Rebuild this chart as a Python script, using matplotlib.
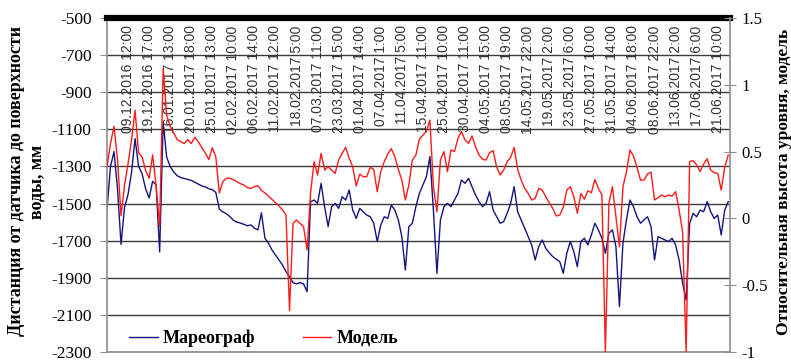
import numpy as np
import matplotlib
matplotlib.use("Agg")
import matplotlib.pyplot as plt
import matplotlib.transforms as mtransforms

plt.rcParams["axes.unicode_minus"] = False

# tide gauge, distance from sensor to water surface, mm
mareograph = [
    -1530, -1300, -1220, -1420, -1720, -1520, -1450, -1330, -1150, -1300,
    -1340, -1420, -1470, -1380, -1400, -1760, -1060, -1250, -1300, -1330,
    -1350, -1360, -1365, -1370, -1375, -1385, -1395, -1405, -1410, -1420,
    -1425, -1440, -1530, -1545, -1555, -1570, -1590, -1600, -1605, -1612,
    -1620, -1615, -1633, -1642, -1550, -1687, -1714, -1750, -1777, -1804,
    -1831, -1867, -1894, -1926, -1933, -1926, -1933, -1975, -1490, -1481,
    -1499, -1391, -1517, -1624, -1517, -1499, -1526, -1463, -1481, -1427,
    -1535, -1580, -1526, -1544, -1562, -1571, -1606, -1705, -1615, -1571,
    -1580, -1508, -1535, -1588, -1678, -1858, -1624, -1606, -1517, -1445,
    -1400, -1355, -1247, -1535, -1876, -1588, -1517, -1499, -1517, -1481,
    -1445, -1373, -1391, -1364, -1409, -1454, -1490, -1517, -1499, -1436,
    -1535, -1571, -1606, -1598, -1553, -1499, -1409, -1544, -1588, -1633,
    -1678, -1723, -1804, -1732, -1696, -1741, -1765, -1786, -1800, -1813,
    -1876, -1768, -1705, -1759, -1840, -1705, -1687, -1723, -1669, -1606,
    -1642, -1687, -1768, -1660, -1642, -1732, -2055, -1714, -1588, -1481,
    -1517, -1571, -1606, -1588, -1571, -1624, -1804, -1678, -1687, -1696,
    -1705, -1687, -1723, -1804, -1930, -2020, -1606, -1553, -1571, -1535,
    -1544, -1490, -1544, -1580, -1562, -1669, -1535, -1490,
]

# model, relative level height
model = [
    0.39, 0.56, 0.69, 0.44, 0.02, 0.25, 0.41, 0.59, 0.81, 0.49,
    0.46, 0.36, 0.30, 0.475, 0.24, -0.06, 1.12, 0.77, 0.69, 0.64,
    0.59, 0.575, 0.56, 0.59, 0.56, 0.607, 0.575, 0.53, 0.49, 0.44,
    0.53, 0.46, 0.19, 0.275, 0.30, 0.30, 0.29, 0.275, 0.26, 0.25,
    0.23, 0.225, 0.237, 0.245, 0.21, 0.19, 0.167, 0.142, 0.118, 0.093,
    0.063, 0.025, -0.69, -0.037, -0.012, -0.037, -0.062, -0.236, 0.19, 0.425,
    0.325, 0.487, 0.362, 0.387, 0.362, 0.337, 0.437, 0.487, 0.532, 0.45,
    0.387, 0.242, 0.332, 0.312, 0.312, 0.382, 0.367, 0.20, 0.35, 0.425,
    0.482, 0.522, 0.462, 0.367, 0.287, 0.138, 0.25, 0.437, 0.474, 0.592,
    0.624, 0.65, 0.736, 0.237, 0.05, 0.437, 0.50, 0.35, 0.512, 0.50,
    0.60, 0.65, 0.587, 0.562, 0.617, 0.537, 0.474, 0.442, 0.437, 0.492,
    0.507, 0.387, 0.325, 0.362, 0.425, 0.457, 0.532, 0.367, 0.287, 0.225,
    0.187, 0.138, 0.15, 0.225, 0.212, 0.162, 0.118, 0.075, 0.018, 0.025,
    0.083, 0.212, 0.237, 0.162, 0.038, 0.187, 0.143, 0.207, 0.192, 0.292,
    0.225, 0.175, -1.0, 0.113, 0.237, 0.013, -0.212, 0.237, 0.35, 0.512,
    0.467, 0.382, 0.287, 0.287, 0.332, 0.347, 0.138, 0.155, 0.175, 0.162,
    0.175, 0.167, 0.20, 0.063, -0.099, -1.0, 0.425, 0.432, 0.40, 0.35,
    0.407, 0.447, 0.362, 0.342, 0.337, 0.212, 0.387, 0.474,
]

date_labels = [
    "09.12.2016 12:00", "19.12.2016 17:00", "16.01.2017 13:00", "20.01.2017 18:00",
    "25.01.2017 13:00", "02.02.2017 10:00", "06.02.2017 14:00", "11.02.2017 12:00",
    "18.02.2017 5:00", "07.03.2017 11:00", "23.03.2017 15:00", "01.04.2017 14:00",
    "07.04.2017 1:00", "11.04.2017 5:00", "15.04.2017 11:00", "25.04.2017 10:00",
    "30.04.2017 11:00", "04.05.2017 15:00", "08.05.2017 19:00", "14.05.2017 22:00",
    "19.05.2017 2:00", "23.05.2017 6:00", "27.05.2017 10:00", "31.05.2017 14:00",
    "04.06.2017 18:00", "08.06.2017 22:00", "13.06.2017 2:00", "17.06.2017 6:00",
    "21.06.2017 10:00",
]
label_step = 6

left_ticks = list(range(-2300, -499, 200))
right_ticks = [-1, -0.5, 0, 0.5, 1, 1.5]
right_tick_labels = ["-1", "-0.5", "0", "0.5", "1", "1.5"]

serif = "Liberation Serif"
sans = "Liberation Sans"
blue = "#14147f"
red = "#ff1a1a"
grey = "#8c8c8c"

x = np.arange(len(mareograph))

fig = plt.figure(figsize=(7.91, 3.63), dpi=100)
ax = fig.add_axes([107 / 791, 11 / 363, 623 / 791, 334 / 363])
ax2 = ax.twinx()

l1, = ax.plot(x, mareograph, color=blue, lw=1.0)
l2, = ax2.plot(x, model, color=red, lw=1.0)

ax.set_xlim(0, len(mareograph) - 0.5)
ax.set_ylim(-2300, -500)
ax2.set_ylim(-1, 1.5)

ax.set_yticks(left_ticks)
ax.set_yticklabels([str(t) for t in left_ticks], fontfamily=serif, fontsize=12.5)
ax2.set_yticks(right_ticks)
ax2.set_yticklabels(right_tick_labels, fontfamily=serif, fontsize=12)
ax.set_xticks([])

ax.grid(axis="y", color="#3a3a3a", lw=1.0)
ax.set_axisbelow(True)
ax.tick_params(axis="y", direction="out", length=5, color=grey, pad=6)
ax2.tick_params(axis="y", direction="inout", length=8, color=grey, pad=4)

for s in ["left", "bottom"]:
    ax.spines[s].set_color(grey)
    ax.spines[s].set_linewidth(1.2)
ax.spines["right"].set_visible(False)
ax.spines["top"].set_color("black")
ax.spines["top"].set_linewidth(4.5)
for s in ["left", "bottom", "top"]:
    ax2.spines[s].set_visible(False)
ax2.spines["right"].set_color(grey)
ax2.spines["right"].set_linewidth(1.2)

# date labels inside the top of the plot
trans = mtransforms.blended_transform_factory(ax.transData, ax.transAxes)
for k, lab in enumerate(date_labels):
    ax.text(label_step * (k + 1), 0.978, lab, transform=trans, rotation=90,
            ha="center", va="top", fontsize=10, fontfamily=sans, color="#333333")

fig.text(27 / 791, 0.5, "Дистанция от датчика до поверхности\nводы, мм",
         rotation=90, ha="center", va="center", ma="center",
         fontsize=13, fontweight="bold", fontfamily=serif, linespacing=1.25)
fig.text(784 / 791, 0.5, "Относительная высота уровня, модель",
         rotation=90, ha="center", va="center",
         fontsize=12.5, fontweight="bold", fontfamily=serif)

ax2.legend([l1, l2], ["Мареограф", "Модель"], loc="lower left",
           bbox_to_anchor=(0.035, 0.015), ncol=2, frameon=False,
           prop={"family": serif, "weight": "bold", "size": 13},
           handlelength=1.6, handletextpad=0.3, columnspacing=2.6,
           borderpad=0, borderaxespad=0)

fig.savefig("out.png", dpi=100)
